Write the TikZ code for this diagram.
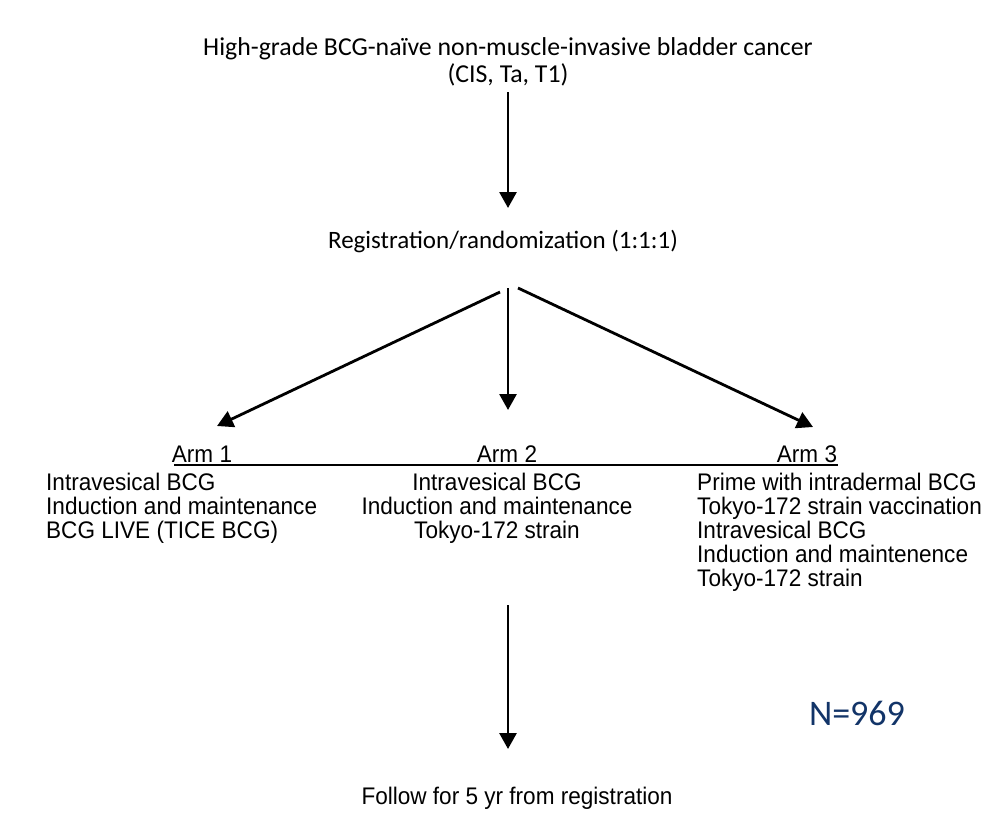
\documentclass[tikz,border=0pt]{standalone}
\usepackage{fontspec}
\setmainfont{Carlito}
\newfontfamily\arialn[FakeStretch=0.94]{Liberation Sans}
\usetikzlibrary{arrows.meta}
\definecolor{nblue}{RGB}{18,52,104}
\begin{document}
\begin{tikzpicture}[x=1pt,y=-1pt,
  arr/.style={line width=2.8pt,-{Triangle[length=16pt,width=17pt]}},
  cal/.style={font=\fontsize{25.8}{30}\selectfont, anchor=base, inner sep=0pt},
  ar/.style={font=\arialn\fontsize{24}{24}\selectfont, anchor=base, inner sep=0pt},
  arl/.style={ar, anchor=base west}]
\useasboundingbox (0,0) rectangle (1006,838);
\fill[white] (0,0) rectangle (1006,838);
% top
\node[cal] (t1) at (508,55) {High-grade BCG-naïve non-muscle-invasive bladder cancer};
\node[cal] (t2) at (508,82) {(CIS, Ta, T1)};
\node[cal, font=\fontsize{25}{30}\selectfont] (reg) at (503,248) {Registration/randomization (1:1:1)};
\coordinate (s0) at (508,92);
\coordinate (e0) at (508,208);
\draw[arr] (s0) -- (e0);
% split
\coordinate (sl) at (500,292);
\coordinate (sm) at (508,288);
\coordinate (sr) at (518,288);
\coordinate (el) at (217,426);
\coordinate (em) at (508,410);
\coordinate (er) at (813,427);
\draw[arr] (sl) -- (el);
\draw[arr] (sm) -- (em);
\draw[arr] (sr) -- (er);
% arm headers
\node[ar] (arm1) at (202,462) {Arm 1};
\node[ar] (arm2) at (507,462) {Arm 2};
\node[ar] (arm3) at (807,462) {Arm 3};
\coordinate (ul) at (174,465);
\coordinate (ur) at (838,465);
\draw[line width=2pt] (ul) -- (ur);
% arm 1
\node[arl] (a1l1) at (46,490) {Intravesical BCG};
\node[arl] (a1l2) at (46,514) {Induction and maintenance};
\node[arl] (a1l3) at (46,538) {BCG LIVE (TICE BCG)};
% arm 2
\node[ar] (a2l1) at (497,490) {Intravesical BCG};
\node[ar] (a2l2) at (497,514) {Induction and maintenance};
\node[ar] (a2l3) at (497,538) {Tokyo-172 strain};
% arm 3
\node[arl] (a3l1) at (697,490) {Prime with intradermal BCG};
\node[arl] (a3l2) at (697,514) {Tokyo-172 strain vaccination};
\node[arl] (a3l3) at (697,538) {Intravesical BCG};
\node[arl] (a3l4) at (697,562) {Induction and maintenence};
\node[arl] (a3l5) at (697,586) {Tokyo-172 strain};
% bottom
\coordinate (s4) at (508,605);
\coordinate (e4) at (508,749);
\draw[arr] (s4) -- (e4);
\node[ar] (fol) at (517,804) {Follow for 5 yr from registration};
\node[cal, font=\fontsize{36}{40}\selectfont, text=nblue] (n) at (857,725) {N=969};
\end{tikzpicture}
\end{document}
